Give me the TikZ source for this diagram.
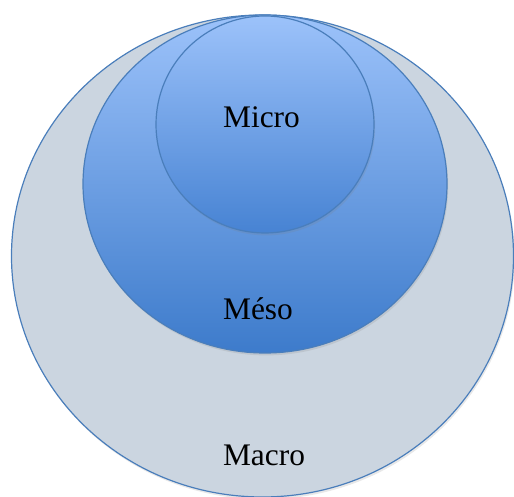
\documentclass[tikz,border=0pt]{standalone}
\usepackage{fontspec}
\setmainfont{Liberation Serif}
\usetikzlibrary{positioning, shapes.geometric, shadows}

\definecolor{ringline}{HTML}{4A7EBB}
\definecolor{macrofill}{HTML}{CBD5E0}
\definecolor{lighttop}{HTML}{9CC2FA}
\definecolor{mesobottom}{HTML}{3D7BCB}
\definecolor{microbottom}{HTML}{4783D3}

\begin{document}
\begin{tikzpicture}[
    x=0.5pt, y=0.5pt,
    ring/.style={
        ellipse,
        draw=ringline,
        line width=0.6pt,
        inner sep=0pt,
        drop shadow={opacity=0.18, shadow xshift=0.6pt, shadow yshift=-1.2pt}
    },
    tag/.style={
        anchor=base,
        inner sep=0pt,
        font=\fontsize{15.7}{19}\selectfont
    }
]
\useasboundingbox (0,0) rectangle (514,497);

\node[ring, fill=macrofill, minimum width=251pt, minimum height=241pt]
    (macro) at (262.5,241) {};
\node[ring, top color=lighttop, bottom color=mesobottom,
      minimum width=182pt, minimum height=169pt]
    (meso) at (265,313) {};
\node[ring, top color=lighttop, bottom color=microbottom,
      minimum width=109pt, minimum height=108.5pt]
    (micro) at (265,372.5) {};

\node[tag] (microtxt) at (261.5,369) {Micro};
\node[tag] (mesotxt) at (258,177) {Méso};
\node[tag] (macrotxt) at (264,31) {Macro};

\end{tikzpicture}
\end{document}
